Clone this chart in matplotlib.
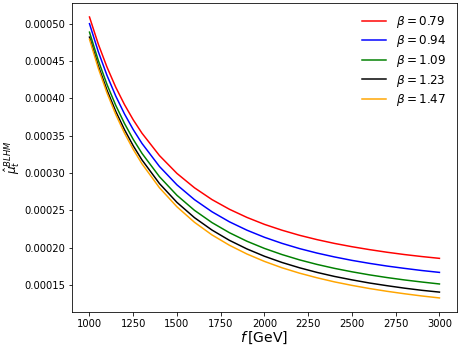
import numpy as np
import matplotlib
matplotlib.use('Agg')
import matplotlib.pyplot as plt

# f in GeV
f = [1000, 1050, 1100, 1150, 1200, 1250, 1300, 1400, 1500, 1600, 1700, 1800, 1900,
     2000, 2100, 2200, 2300, 2400, 2500, 2600, 2700, 2800, 2900, 3000]

# mu_t^BLHM values, in units of 1e-6
mu_079 = [509.0, 472.9, 441.9, 415.0, 391.7, 371.3, 353.4, 323.4, 299.5, 280.3, 264.5, 251.5,
          240.6, 231.3, 223.5, 216.7, 210.9, 205.8, 201.4, 197.5, 194.0, 190.9, 188.2, 185.8]
mu_094 = [500.0, 462.8, 430.8, 403.2, 379.2, 358.2, 339.7, 308.8, 284.2, 264.4, 248.2, 234.7,
          223.5, 214.0, 205.9, 198.9, 192.9, 187.7, 183.1, 179.1, 175.5, 172.4, 169.5, 167.0]
mu_109 = [488.7, 451.0, 418.7, 390.7, 366.4, 345.1, 326.4, 295.1, 270.2, 250.1, 233.7, 220.1,
          208.7, 199.1, 190.9, 183.8, 177.7, 172.4, 167.8, 163.7, 160.1, 156.9, 154.1, 151.5]
mu_123 = [482.0, 443.8, 411.1, 382.7, 358.1, 336.5, 317.6, 285.9, 260.7, 240.3, 223.7, 209.9,
          198.4, 188.6, 180.3, 173.2, 167.0, 161.6, 157.0, 152.8, 149.2, 145.9, 143.0, 140.6]
mu_147 = [479.2, 440.5, 407.3, 378.5, 353.5, 331.7, 312.4, 280.3, 254.8, 234.1, 217.2, 203.3,
          191.6, 181.7, 173.2, 166.0, 159.8, 154.3, 149.6, 145.4, 141.7, 138.4, 135.4, 132.8]

betas = ['0.79', '0.94', '1.09', '1.23', '1.47']
series = [mu_079, mu_094, mu_109, mu_123, mu_147]
colors = ['red', 'blue', 'green', 'black', 'orange']

fig = plt.figure(figsize=(6.43, 4.82), dpi=72)
ax = fig.add_axes([0.1555, 0.1009, 0.8315, 0.8905])

for b, mu, c in zip(betas, series, colors):
    ax.plot(f, np.array(mu)*1e-6, color=c, label=r'$\beta = %s$' % b)

ax.set_xlabel(r'$f\,$[GeV]', fontsize=14, labelpad=1)
ax.set_ylabel(r'$\hat{\mu}_t^{BLHM}$', fontsize=12, labelpad=2)
ax.tick_params(labelsize=10)
ax.legend(loc='upper right', frameon=False, fontsize=12, labelspacing=0.3)

fig.savefig('out.png', dpi=72)
